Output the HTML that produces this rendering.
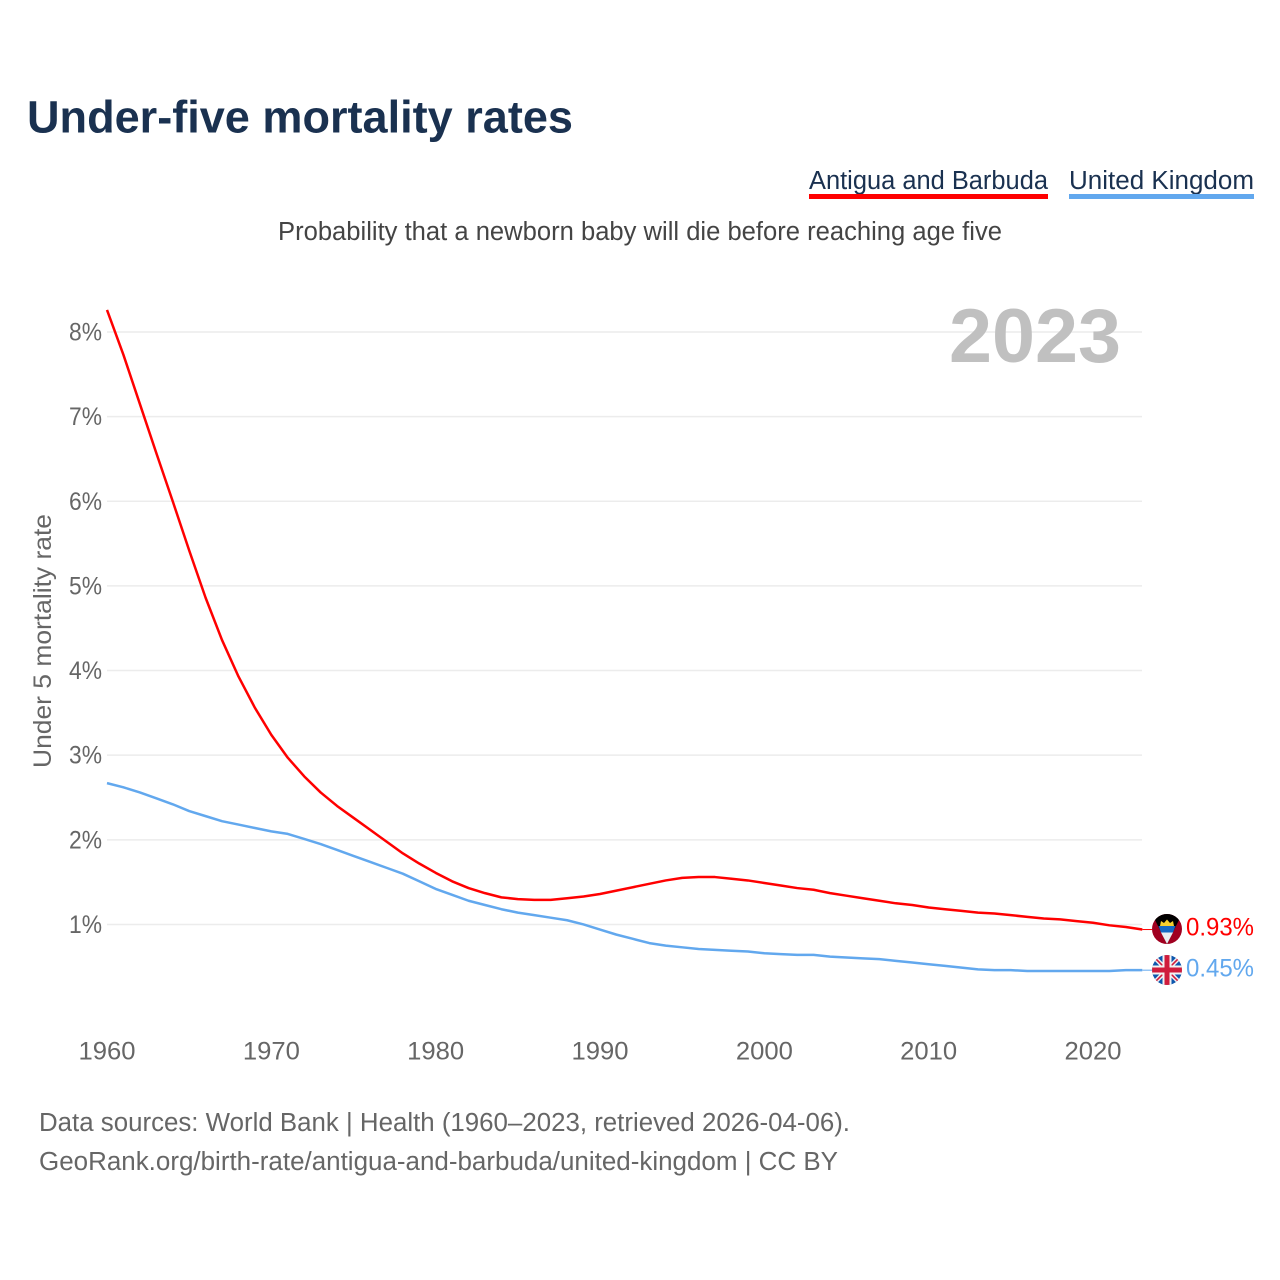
<!DOCTYPE html>
<html lang="en">
<head>
<meta charset="utf-8">
<title>Under-five mortality rates</title>
<style>
html,body{margin:0;padding:0;background:#fff;}
svg{display:block;}
text{font-family:"Liberation Sans",sans-serif;}
</style>
</head>
<body>
<svg id="chart" xmlns="http://www.w3.org/2000/svg" width="1280" height="1280" viewBox="0 0 1280 1280">
  <rect width="1280" height="1280" fill="#ffffff"/>
  <text x="27" y="132.5" font-size="45" font-weight="700" fill="#1a3150" textLength="546" lengthAdjust="spacingAndGlyphs">Under-five mortality rates</text>

  <g>
    <text x="809" y="189" font-size="25.5" fill="#1a3150" textLength="239" lengthAdjust="spacingAndGlyphs">Antigua and Barbuda</text>
    <rect x="809" y="194" width="239" height="5" fill="#ff0000"/>
  </g>
  <g>
    <text x="1069" y="189" font-size="25.5" fill="#1a3150" textLength="185" lengthAdjust="spacingAndGlyphs">United Kingdom</text>
    <rect x="1069" y="194" width="185" height="5" fill="#62a8ee"/>
  </g>

  <text x="278" y="240" font-size="25.5" fill="#444444" textLength="724" lengthAdjust="spacingAndGlyphs">Probability that a newborn baby will die before reaching age five</text>

  <g id="grid"></g>
  <g id="yticks"></g>
  <g id="xticks"></g>

  <text transform="translate(51 768) rotate(-90)" x="0" y="0" font-size="25" fill="#666666" textLength="254" lengthAdjust="spacingAndGlyphs">Under 5 mortality rate</text>
  <text x="949" y="362" font-size="76" font-weight="700" fill="#c0c0c0" textLength="172" lengthAdjust="spacingAndGlyphs">2023</text>

  <g id="series"></g>

  <defs>
    <clipPath id="clipAg"><circle cx="1167" cy="929" r="15"/></clipPath>
    <clipPath id="clipUk"><circle cx="1167" cy="970" r="15"/></clipPath>
  </defs>

  <g clip-path="url(#clipAg)">
    <rect x="1152" y="914" width="30" height="30" fill="#a00020"/>
    <polygon points="1152,914 1182,914 1167,944" fill="#000000"/>
    <polygon points="1158.5,926 1175.5,926 1173,932.5 1161,932.5" fill="#1468c4"/>
    <polygon points="1161,932.5 1173,932.5 1167,944" fill="#e9edf1"/>
    <polygon points="1160,926 1161,921 1164,923 1167,919.5 1170,923 1173,921 1174,926" fill="#f5cf2e"/>
  </g>
  <g clip-path="url(#clipUk)">
    <rect x="1152" y="955" width="30" height="30" fill="#0f57ad"/>
    <path d="M1152 955 L1182 985 M1182 955 L1152 985" stroke="#f2f2f2" stroke-width="4.5"/>
    <path d="M1152 955 L1182 985 M1182 955 L1152 985" stroke="#d01c3c" stroke-width="1.6"/>
    <rect x="1162.5" y="955" width="9" height="30" fill="#f2f2f2"/>
    <rect x="1152" y="965.5" width="30" height="9" fill="#f2f2f2"/>
    <rect x="1164.5" y="955" width="5" height="30" fill="#d01c3c"/>
    <rect x="1152" y="967.5" width="30" height="5" fill="#d01c3c"/>
  </g>

  <text id="labelRed" x="1186" y="935.5" font-size="25" fill="#ff0000" textLength="68" lengthAdjust="spacingAndGlyphs"></text>
  <text id="labelBlue" x="1186" y="976.5" font-size="25" fill="#62a8ee" textLength="68" lengthAdjust="spacingAndGlyphs"></text>

  <text x="39" y="1131" font-size="25.5" fill="#666666" textLength="811" lengthAdjust="spacingAndGlyphs">Data sources: World Bank | Health (1960–2023, retrieved 2026-04-06).</text>
  <text x="39" y="1170" font-size="25.5" fill="#666666" textLength="799" lengthAdjust="spacingAndGlyphs">GeoRank.org/birth-rate/antigua-and-barbuda/united-kingdom | CC BY</text>
</svg>

<script>
const startYear = 1960;
const yTickValues = [1, 2, 3, 4, 5, 6, 7, 8];
const yTickLabels = ["1%", "2%", "3%", "4%", "5%", "6%", "7%", "8%"];
const xTickValues = [1960, 1970, 1980, 1990, 2000, 2010, 2020];
const xTickLabels = ["1960", "1970", "1980", "1990", "2000", "2010", "2020"];
const antiguaValues = [
  8.26, 7.73, 7.15, 6.57, 6.00, 5.42, 4.86, 4.36, 3.93, 3.56,
  3.24, 2.97, 2.75, 2.56, 2.40, 2.26, 2.12, 1.98, 1.84, 1.72,
  1.61, 1.51, 1.43, 1.37, 1.32, 1.30, 1.29, 1.29, 1.31, 1.33,
  1.36, 1.40, 1.44, 1.48, 1.52, 1.55, 1.56, 1.56, 1.54, 1.52,
  1.49, 1.46, 1.43, 1.41, 1.37, 1.34, 1.31, 1.28, 1.25, 1.23,
  1.20, 1.18, 1.16, 1.14, 1.13, 1.11, 1.09, 1.07, 1.06, 1.04,
  1.02, 0.99, 0.97, 0.94
];
const ukValues = [
  2.67, 2.62, 2.56, 2.49, 2.42, 2.34, 2.28, 2.22, 2.18, 2.14,
  2.10, 2.07, 2.01, 1.95, 1.88, 1.81, 1.74, 1.67, 1.60, 1.51,
  1.42, 1.35, 1.28, 1.23, 1.18, 1.14, 1.11, 1.08, 1.05, 1.00,
  0.94, 0.88, 0.83, 0.78, 0.75, 0.73, 0.71, 0.70, 0.69, 0.68,
  0.66, 0.65, 0.64, 0.64, 0.62, 0.61, 0.60, 0.59, 0.57, 0.55,
  0.53, 0.51, 0.49, 0.47, 0.46, 0.46, 0.45, 0.45, 0.45, 0.45,
  0.45, 0.45, 0.46, 0.46
];
const antiguaEndLabel = "0.93%";
const ukEndLabel = "0.45%";

const NS = "http://www.w3.org/2000/svg";
function xScale(year) { return 107 + (year - 1960) * (1093 - 107) / 60; }
function yScale(v) { return 1009.1 - v * 84.64; }
function make(tag, attrs, parent) {
  const el = document.createElementNS(NS, tag);
  for (const k in attrs) el.setAttribute(k, attrs[k]);
  parent.appendChild(el);
  return el;
}

const grid = document.getElementById("grid");
const yticks = document.getElementById("yticks");
const xticks = document.getElementById("xticks");
const seriesGroup = document.getElementById("series");

yTickValues.forEach(function (v, i) {
  const y = yScale(v);
  const line = make("line", { x1: 107, x2: 1142, y1: y, y2: y, stroke: "#ececec", "stroke-width": 1.5 }, grid);
  
  
  const t = make("text", { x: 69, y: y + 8.5, "font-size": 25, fill: "#666666", textLength: 33, lengthAdjust: "spacingAndGlyphs" }, yticks);
  t.textContent = yTickLabels[i];
  
  
});

xTickValues.forEach(function (yr, i) {
  const t = make("text", { x: xScale(yr) - 28.5, y: 1059.5, "font-size": 25, fill: "#666666", textLength: 57, lengthAdjust: "spacingAndGlyphs" }, xticks);
  t.textContent = xTickLabels[i];
  
  
});

function linePoints(values) {
  return values.map(function (v, i) {
    return xScale(startYear + i).toFixed(2) + "," + yScale(v).toFixed(2);
  }).join(" ");
}

const redLine = make("polyline", { points: linePoints(antiguaValues), fill: "none", stroke: "#ff0000", "stroke-width": 2.5, "stroke-linejoin": "round" }, seriesGroup);



const blueLine = make("polyline", { points: linePoints(ukValues), fill: "none", stroke: "#62a8ee", "stroke-width": 2.5, "stroke-linejoin": "round" }, seriesGroup);



const lastYear = startYear + antiguaValues.length - 1;
const redEndY = yScale(antiguaValues[antiguaValues.length - 1]);
const blueEndY = yScale(ukValues[ukValues.length - 1]);

const redLead = make("line", { x1: xScale(lastYear), x2: 1152, y1: redEndY, y2: redEndY, stroke: "#ff0000", "stroke-width": 1 }, seriesGroup);



const blueLead = make("line", { x1: xScale(lastYear), x2: 1152, y1: blueEndY, y2: blueEndY, stroke: "#62a8ee", "stroke-width": 1 }, seriesGroup);



document.getElementById("labelRed").textContent = antiguaEndLabel;
document.getElementById("labelBlue").textContent = ukEndLabel;
</script>
</body>
</html>
